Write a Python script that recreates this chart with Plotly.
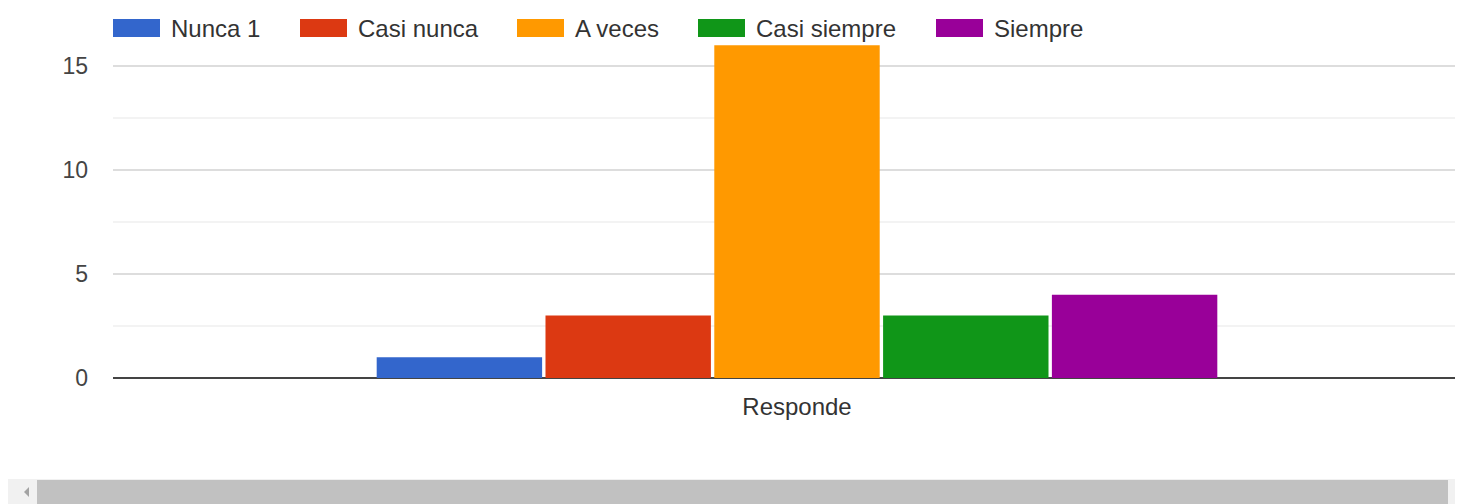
import plotly.graph_objects as go

# ---- data ----
category = ["Responde"]
series_names = ["Nunca 1", "Casi nunca", "A veces", "Casi siempre", "Siempre"]
series_values = [1, 3, 16, 3, 4]
series_colors = ["#3366cc", "#dc3912", "#ff9900", "#109618", "#990099"]
y_ticks = [0, 5, 10, 15]

# ---- layout geometry (window pixels; page body has an 8px margin) ----
OFF = 8
WIN_W, WIN_H = 1463, 504
W, H = WIN_W - OFF, WIN_H - OFF
PLOT_L, PLOT_T, PLOT_B = 113, 14, 378          # plot area in window pixels
ML, MT = PLOT_L - OFF, PLOT_T - OFF
MR = 0
MB = WIN_H - PLOT_B
PW, PH = W - ML - MR, H - MT - MB
FONT = "Arial, Liberation Sans, sans-serif"


def px(x):
    return (x - PLOT_L) / PW


def py(y):
    return (PLOT_B - y) / PH


fig = go.Figure()
for name, val, col in zip(series_names, series_values, series_colors):
    fig.add_trace(go.Bar(x=category, y=[val], name=name, marker=dict(color=col, line=dict(width=0)),
                         showlegend=False))

# custom legend (wide swatches like the original)
legend_swatch_x = [113, 300, 517, 698, 936]
shapes = []
annotations = []
for name, col, sx in zip(series_names, series_colors, legend_swatch_x):
    shapes.append(dict(type="rect", xref="paper", yref="paper", x0=px(sx), x1=px(sx + 47),
                       y0=py(37), y1=py(19), fillcolor=col, line=dict(width=0), layer="above"))
    annotations.append(dict(xref="paper", yref="paper", x=px(sx + 56), y=py(29), text=name,
                            showarrow=False, xanchor="left", yanchor="middle",
                            font=dict(family=FONT, size=24, color="#333333")))

# scrollbar decoration
shapes.append(dict(type="rect", xref="paper", yref="paper", x0=px(0), x1=px(WIN_W), y0=py(WIN_H), y1=py(479),
                   fillcolor="#f1f1f1", line=dict(width=0), layer="below"))
shapes.append(dict(type="rect", xref="paper", yref="paper", x0=px(37), x1=px(1448), y0=py(WIN_H), y1=py(480),
                   fillcolor="#c1c1c1", line=dict(width=0), layer="below"))
shapes.append(dict(type="path", xref="paper", yref="paper",
                   path=f"M {px(24)},{py(492)} L {px(29)},{py(487)} L {px(29)},{py(497)} Z",
                   fillcolor="#a3a3a3", line=dict(width=0), layer="below"))

# bar group: 5 bars spanning ~844 px centred at x=797
bargap = 0.2
unit_px = 844 / (1 - bargap)
center_px = 797

fig.update_layout(
    width=W, height=H,
    margin=dict(l=ML, r=MR, t=MT, b=MB, pad=0),
    paper_bgcolor="white", plot_bgcolor="white",
    barmode="group", bargap=bargap, bargroupgap=0.02,
    font=dict(family=FONT, size=24, color="#444444"),
    shapes=shapes, annotations=annotations,
    xaxis=dict(type="category", range=[(PLOT_L - center_px) / unit_px, (PLOT_L + PW - center_px) / unit_px],
               showgrid=False, zeroline=False, showline=False, ticks="",
               tickfont=dict(family=FONT, size=24, color="#333333"), ticklabelstandoff=12),
    yaxis=dict(range=[0, 17.5], tickvals=y_ticks, showgrid=True, gridcolor="#dddddd", gridwidth=1.5,
               zeroline=True, zerolinecolor="#444444", zerolinewidth=2, showline=False, ticks="",
               tickfont=dict(family=FONT, size=23, color="#444444"), ticklabelstandoff=24,
               minor=dict(dtick=2.5, tick0=0, showgrid=True, gridcolor="#f3f3f3", gridwidth=1.5)),
)

fig.write_html("out.html")
